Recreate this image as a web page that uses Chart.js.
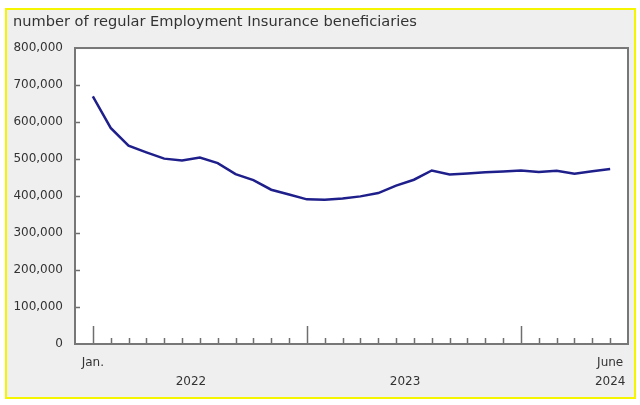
<!DOCTYPE html>
<html>
<head>
<meta charset="utf-8">
<script src="https://cdn.jsdelivr.net/npm/chart.js@4"></script>
<style>
  html, body { margin: 0; padding: 0; background: #fff; }
  #wrap { width: 640px; height: 405px; }
</style>
</head>
<body>
<div id="wrap"><canvas id="eiChart"></canvas></div>
<script>
// Regular EI beneficiaries, Jan. 2022 to June 2024
const months = [
    '2022-01', '2022-02', '2022-03', '2022-04', '2022-05', '2022-06',
    '2022-07', '2022-08', '2022-09', '2022-10', '2022-11', '2022-12',
    '2023-01', '2023-02', '2023-03', '2023-04', '2023-05', '2023-06',
    '2023-07', '2023-08', '2023-09', '2023-10', '2023-11', '2023-12',
    '2024-01', '2024-02', '2024-03', '2024-04', '2024-05', '2024-06'
];
const beneficiaries = [
    669000, 584000, 536000, 518000, 501000, 496000,
    504000, 489000, 459000, 443000, 417000, 404000,
    391000, 390000, 393000, 399000, 408000, 428000,
    444000, 469000, 458000, 461000, 464000, 466000,
    469000, 465000, 468000, 460000, 467000, 473000
];
const monthTicks = [0, 29];
const monthTickLabels = ['Jan.', 'June'];
const yearTicks = [5.5, 17.5, 29];
const yearLabels = ['2022', '2023', '2024'];
const yTicks = [0, 100000, 200000, 300000, 400000, 500000, 600000, 700000, 800000];

const textColor = '#333333';
const fontFamily = '"DejaVu Sans", Verdana, sans-serif';

// Grey panel, yellow frame and white plot box
const framePlugin = {
    id: 'frame',
    beforeDraw(chart) {
        const ctx = chart.ctx;
        const a = chart.chartArea;
        ctx.save();
        ctx.fillStyle = '#ffffff';
        ctx.fillRect(0, 0, chart.width, chart.height);
        ctx.fillStyle = '#efefef';
        ctx.fillRect(6, 9, 629, 389);
        ctx.strokeStyle = '#f5f500';
        ctx.lineWidth = 2;
        ctx.strokeRect(6, 9, 629, 389);
        ctx.fillStyle = '#ffffff';
        ctx.fillRect(a.left, a.top, a.right - a.left, a.bottom - a.top);
        ctx.restore();
    },
    beforeDatasetsDraw(chart) {
        const ctx = chart.ctx;
        const a = chart.chartArea;
        const x = chart.scales.x;
        const y = chart.scales.y;
        ctx.save();
        ctx.strokeStyle = '#6e6e6e';
        ctx.lineWidth = 1.5;
        // month ticks, pointing up from the bottom edge
        months.forEach((m, i) => {
            const px = Math.round(x.getPixelForValue(i)) + 0.5;
            const len = m.endsWith('-01') ? 18 : 6;
            ctx.beginPath();
            ctx.moveTo(px, a.bottom);
            ctx.lineTo(px, a.bottom - len);
            ctx.stroke();
        });
        // value ticks, pointing right from the left edge
        yTicks.slice(1, -1).forEach(v => {
            const py = Math.round(y.getPixelForValue(v)) + 0.5;
            ctx.beginPath();
            ctx.moveTo(a.left, py);
            ctx.lineTo(a.left + 5, py);
            ctx.stroke();
        });
        ctx.strokeStyle = '#777777';
        ctx.lineWidth = 2;
        ctx.strokeRect(a.left, a.top, a.right - a.left, a.bottom - a.top);
        ctx.restore();
    }
};

const ctx = document.getElementById('eiChart').getContext('2d');
new Chart(ctx, {
    type: 'line',
    data: {
        datasets: [{
            label: 'beneficiaries',
            data: beneficiaries.map((v, i) => ({ x: i, y: v })),
            borderColor: '#1f1f8c',
            borderWidth: 2.5,
            pointRadius: 0,
            tension: 0,
            fill: false
        }]
    },
    options: {
        responsive: true,
        maintainAspectRatio: false,
        animation: false,
        layout: {
            padding: { left: 13, right: 12, top: 0, bottom: 7 }
        },
        plugins: {
            legend: { display: false },
            tooltip: { enabled: false },
            title: {
                display: true,
                text: 'number of regular Employment Insurance beneficiaries',
                align: 'start',
                color: textColor,
                font: { family: fontFamily, size: 14.6, weight: 'normal', lineHeight: 1.2 },
                padding: { top: 13, bottom: 17.5 }
            }
        },
        scales: {
            x: {
                type: 'linear',
                position: 'bottom',
                min: -1,
                max: 30,
                grid: { display: false, drawTicks: false },
                border: { display: false },
                afterBuildTicks: scale => {
                    scale.ticks = monthTicks.map(v => ({ value: v }));
                },
                afterFit: scale => { scale.height = 26; },
                ticks: {
                    autoSkip: false,
                    maxRotation: 0,
                    padding: 12,
                    color: textColor,
                    font: { family: fontFamily, size: 12 },
                    callback: (value) => monthTickLabels[monthTicks.indexOf(value)]
                }
            },
            x2: {
                type: 'linear',
                position: 'bottom',
                min: -1,
                max: 30,
                grid: { display: false, drawTicks: false },
                border: { display: false },
                afterBuildTicks: scale => {
                    scale.ticks = yearTicks.map(v => ({ value: v }));
                },
                afterFit: scale => { scale.height = 28; },
                ticks: {
                    autoSkip: false,
                    maxRotation: 0,
                    padding: 5,
                    color: textColor,
                    font: { family: fontFamily, size: 12 },
                    callback: (value) => yearLabels[yearTicks.indexOf(value)]
                }
            },
            y: {
                min: 0,
                max: 800000,
                grid: { display: false, drawTicks: false },
                border: { display: false },
                afterBuildTicks: scale => {
                    scale.ticks = yTicks.map(v => ({ value: v }));
                },
                afterFit: scale => { scale.width = 62; },
                ticks: {
                    padding: 12,
                    color: textColor,
                    font: { family: fontFamily, size: 12 },
                    callback: value => value.toLocaleString('en-US')
                }
            }
        }
    },
    plugins: [framePlugin]
});
</script>
</body>
</html>
